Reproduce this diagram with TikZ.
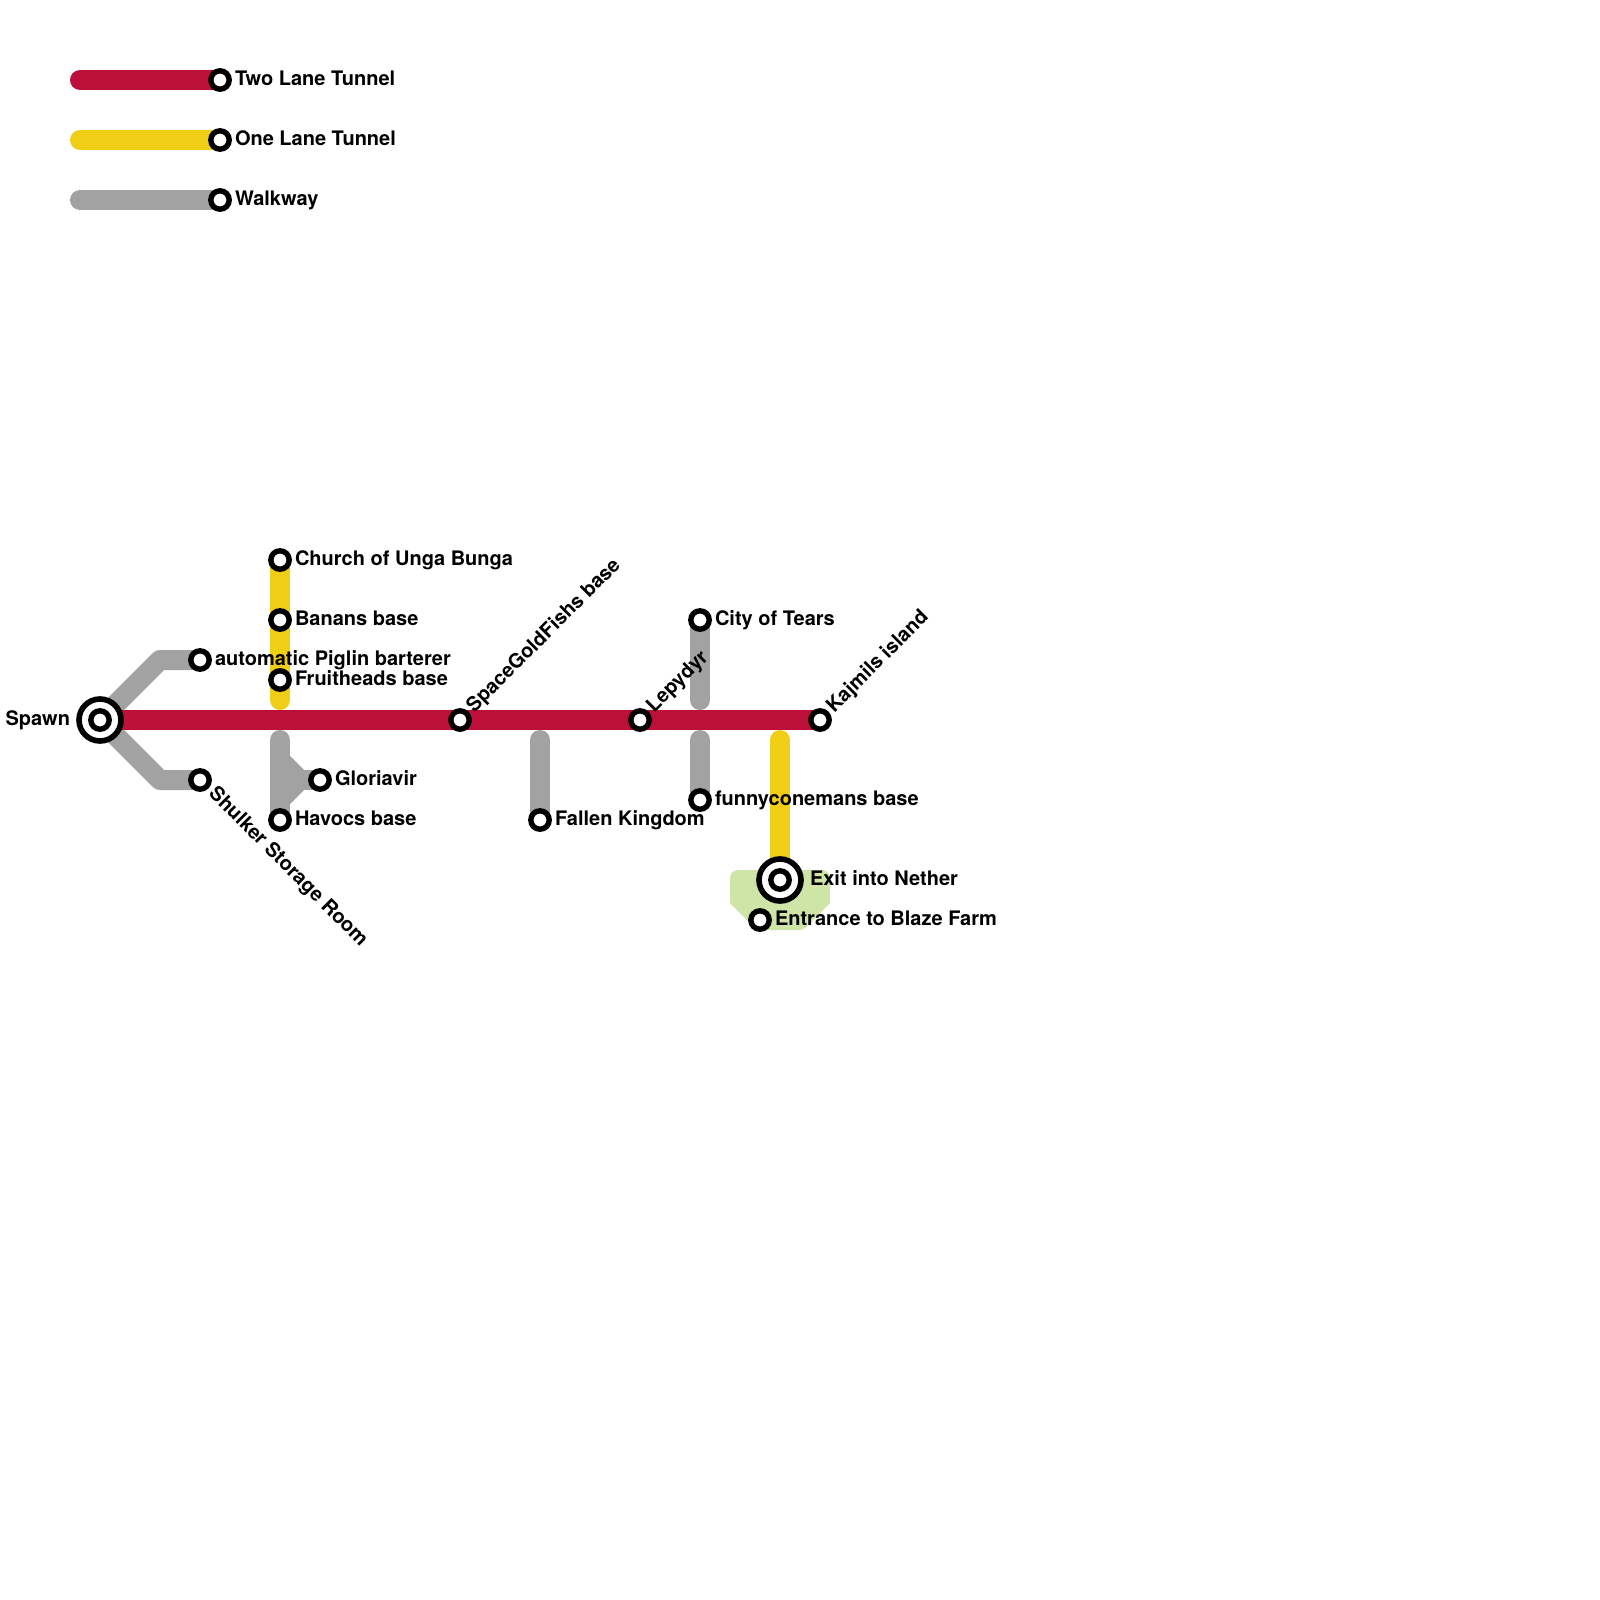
\documentclass[tikz,border=0pt]{standalone}
\usepackage{fontspec}
\setmainfont{TeX Gyre Heros}
\pgfdeclarelayer{lines}
\pgfsetlayers{lines,main}
\definecolor{rail}{HTML}{BD1038}
\definecolor{sun}{HTML}{F0CE15}
\definecolor{walk}{HTML}{A2A2A2}
\definecolor{park}{HTML}{CFE4A7}
\tikzset{
  railline/.style={line width=20pt,line cap=round,line join=round,color=rail},
  sunline/.style={railline,color=sun},
  walkline/.style={railline,color=walk},
  stop/.style={circle,draw=black,fill=white,line width=5.4pt,minimum size=18.4pt,inner sep=0pt,outer sep=0pt},
  hubring/.style={circle,draw=black,fill=white,line width=5.6pt,minimum size=42pt,inner sep=0pt,outer sep=0pt},
  lab/.style={inner sep=0pt,outer sep=0pt,anchor=base west,font=\fontsize{20}{20}\selectfont\bfseries},
}
\begin{document}
\begin{tikzpicture}[x=1pt,y=-1pt]
\useasboundingbox (0,0) rectangle (1600,1600);
% coordinates
\coordinate (l1) at (80,80);
\coordinate (l2) at (80,140);
\coordinate (l3) at (80,200);
\coordinate (upA) at (160,660);
\coordinate (dnA) at (160,780);
\coordinate (gTop) at (280,740);
\coordinate (gU) at (280,760);
\coordinate (gM) at (300,780);
\coordinate (gD) at (280,800);
\coordinate (fkT) at (540,740);
\coordinate (ctB) at (700,700);
\coordinate (fcT) at (700,740);
\coordinate (yT) at (780,740);
\coordinate (yE) at (280,700);
% stations
\node[hubring] (spawn) at (100,720) {};
\node[stop] (spawnIn) at (spawn.center) {};
\node[hubring] (exit) at (780,880) {};
\node[stop] (exitIn) at (exit.center) {};
\node[stop] (t2) at (220,80) {};
\node[stop] (t1) at (220,140) {};
\node[stop] (tw) at (220,200) {};
\node[stop] (church) at (280,560) {};
\node[stop] (banans) at (280,620) {};
\node[stop] (fruit) at (280,680) {};
\node[stop] (piglin) at (200,660) {};
\node[stop] (shulker) at (200,780) {};
\node[stop] (glori) at (320,780) {};
\node[stop] (havocs) at (280,820) {};
\node[stop] (space) at (460,720) {};
\node[stop] (fallen) at (540,820) {};
\node[stop] (lepy) at (640,720) {};
\node[stop] (city) at (700,620) {};
\node[stop] (funny) at (700,800) {};
\node[stop] (kaj) at (820,720) {};
\node[stop] (blaze) at (760,920) {};
% lines
\begin{pgfonlayer}{lines}
\fill[white] (0,0) rectangle (1600,1600);
\fill[park] (730,890) [rounded corners=8pt] -- (730,870) -- (830,870) -- (830,890) [sharp corners] -- (830,903) [rounded corners=3pt] -- (803,930) -- (757,930) [sharp corners] -- (730,903) -- cycle;
\draw[walkline] (spawn.center) -- (upA) -- (piglin.center);
\draw[walkline] (spawn.center) -- (dnA) -- (shulker.center);
\draw[walkline] (gTop) -- (havocs.center);
\draw[walkline] (gU) -- (gM) -- (gD);
\draw[walkline] (gM) -- (glori.center);
\draw[walkline] (fkT) -- (fallen.center);
\draw[walkline] (city.center) -- (ctB);
\draw[walkline] (fcT) -- (funny.center);
\draw[walkline] (l3) -- (tw.center);
\draw[sunline] (church.center) -- (yE);
\draw[sunline] (yT) -- (exit.center);
\draw[sunline] (l2) -- (t1.center);
\draw[railline] (spawn.center) -- (kaj.center);
\draw[railline] (l1) -- (t2.center);
\end{pgfonlayer}
% labels
\node[lab] (a1) at (235,85.5) {Two Lane Tunnel};
\node[lab] (a2) at (235,145.5) {One Lane Tunnel};
\node[lab] (a3) at (235,205.5) {Walkway};
\node[lab] (a4) at (295,565.5) {Church of Unga Bunga};
\node[lab] (a5) at (295,625.5) {Banans base};
\node[lab] (a6) at (215,665.5) {automatic Piglin barterer};
\node[lab] (a7) at (295,685.5) {Fruitheads base};
\node[lab] (a8) at (335,785.5) {Gloriavir};
\node[lab] (a9) at (295,825.5) {Havocs base};
\node[lab] (a10) at (555,825.5) {Fallen Kingdom};
\node[lab] (a11) at (715,625.5) {City of Tears};
\node[lab] (a12) at (715,805.5) {funnyconemans base};
\node[lab] (a13) at (810,885.5) {Exit into Nether};
\node[lab] (a14) at (775,925.5) {Entrance to Blaze Farm};
\node[lab,anchor=base east] (a15) at (70,725.5) {Spawn};
\node[lab,rotate=45] (a16) at (474.3,713.3) {SpaceGoldFishs base};
\node[lab,rotate=45] (a17) at (654.3,713.3) {Lepydyr};
\node[lab,rotate=45] (a18) at (834.3,713.3) {Kajmils island};
\node[lab,rotate=-45] (a19) at (207.9,794.8) {Shulker Storage Room};
\end{tikzpicture}
\end{document}
